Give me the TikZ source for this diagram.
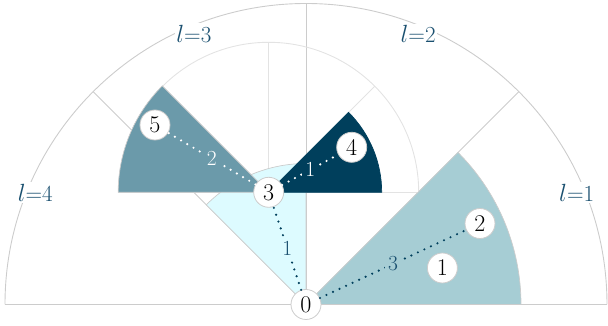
\documentclass[tikz,border=0pt]{standalone}
\begin{document}
\begin{tikzpicture}[x=1pt,y=1pt,
  outerline/.style={draw=gridc,line width=0.9pt},
  innerline/.style={draw=gridl,line width=0.9pt},
  sector/.style={draw=gridc,line width=0.7pt},
  vnode/.style={circle,draw=gridc,fill=white,line width=0.8pt,minimum size=30pt,inner sep=0pt,font=\fontsize{24}{26}\selectfont},
  lvl/.style={fill=white,inner sep=1.5pt,text=lblue,font=\fontsize{23}{25}\selectfont},
  elabel/.style={inner sep=3pt,font=\fontsize{21.5}{23}\selectfont},
  dotedge/.style={line width=2.4pt,line cap=round,dash pattern=on 0pt off 7.2pt}
]
\definecolor{gridc}{HTML}{CCCCCC}
\definecolor{gridl}{HTML}{E3E3E3}
\definecolor{cyanf}{HTML}{DDFBFF}
\definecolor{tealf}{HTML}{A6CDD4}
\definecolor{steelf}{HTML}{6B9AAA}
\definecolor{navyf}{HTML}{003F5C}
\definecolor{lblue}{HTML}{1A5070}
\useasboundingbox (-306,-21.5) rectangle (302,304.5);
\coordinate (O) at (0,0);
\coordinate (P3) at (-37.3,112.2);
% outer grid
\draw[outerline] (-301,0) -- (301,0);
\draw[outerline] (301,0) arc[start angle=0,end angle=180,radius=301];
\foreach \a in {45,90,135} \draw[outerline] (O) -- (\a:301);
% inner grid
\begin{scope}[shift={(P3)}]
\draw[innerline] (-150,0) -- (150,0);
\draw[innerline] (150,0) arc[start angle=0,end angle=180,radius=150];
\foreach \a in {45,90,135} \draw[innerline] (0,0) -- (\a:150);
\end{scope}
% sectors
\filldraw[sector,fill=cyanf] (O) -- (90:141) arc[start angle=90,end angle=135,radius=141] -- cycle;
\filldraw[sector,fill=tealf] (O) -- (0:215) arc[start angle=0,end angle=45,radius=215] -- cycle;
\begin{scope}[shift={(P3)}]
\filldraw[sector,fill=steelf] (0,0) -- (135:150.5) arc[start angle=135,end angle=180,radius=150.5] -- cycle;
\filldraw[sector,fill=navyf,draw=navyf] (0,0) -- (0:113) arc[start angle=0,end angle=45,radius=113] -- cycle;
\end{scope}
% level labels
\node[lvl] (l1) at (22.5:293) {$l$=1};
\node[lvl] (l2) at (67.5:293) {$l$=2};
\node[lvl] (l3) at (112.5:293) {$l$=3};
\node[lvl] (l4) at (157.5:293) {$l$=4};
% nodes
\node[vnode] (n0) at (O) {0};
\node[vnode] (n3) at (P3) {3};
\node[vnode] (n5) at (-151,179.5) {5};
\node[vnode] (n4) at (45.7,157.2) {4};
\node[vnode] (n2) at (174,81) {2};
\node[vnode] (n1) at (136.4,36.5) {1};
% edges
\draw[dotedge,navyf] (n0) -- node[elabel,fill=tealf,text=lblue] {3} (n2);
\draw[dotedge,navyf] (n0) -- node[elabel,fill=cyanf,text=lblue] {1} (n3);
\draw[dotedge,white] (n3) -- node[elabel,fill=steelf,text=white] {2} (n5);
\draw[dotedge,white] (n3) -- node[elabel,fill=navyf,text=white] {1} (n4);
\end{tikzpicture}
\end{document}
